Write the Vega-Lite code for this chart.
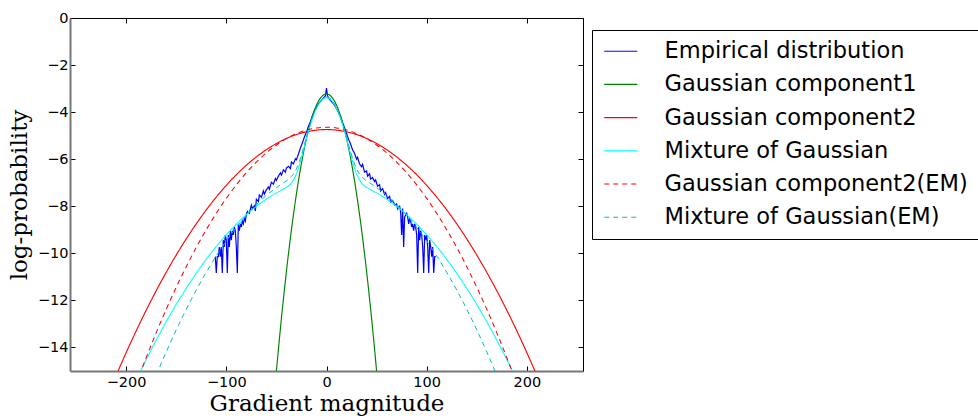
{
"$schema": "https://vega.github.io/schema/vega-lite/v6.json",
"width": 513, "height": 353,
"autosize": {"type": "none"},
"padding": {"left": 70, "top": 18, "right": 395, "bottom": 45},
"background": "white",
"config": {"view": {"stroke": null}, "font": "DejaVu Sans"},
"data": {"values": [
{"s":"Empirical distribution","x":-111,"y":-10.14},{"s":"Empirical distribution","x":-110,"y":-10.83},{"s":"Empirical distribution","x":-109,"y":-10.14},{"s":"Empirical distribution","x":-108,"y":-10.14},{"s":"Empirical distribution","x":-107,"y":-9.73},{"s":"Empirical distribution","x":-106,"y":-10.14},{"s":"Empirical distribution","x":-105,"y":-9.73},{"s":"Empirical distribution","x":-104,"y":-10.83},{"s":"Empirical distribution","x":-103,"y":-9.44},{"s":"Empirical distribution","x":-102,"y":-9.73},{"s":"Empirical distribution","x":-101,"y":-9.22},{"s":"Empirical distribution","x":-100,"y":-9.44},{"s":"Empirical distribution","x":-99,"y":-10.83},{"s":"Empirical distribution","x":-98,"y":-9.22},{"s":"Empirical distribution","x":-97,"y":-9.73},{"s":"Empirical distribution","x":-96,"y":-9.04},{"s":"Empirical distribution","x":-95,"y":-9.44},{"s":"Empirical distribution","x":-94,"y":-9.04},{"s":"Empirical distribution","x":-93,"y":-9.22},{"s":"Empirical distribution","x":-92,"y":-8.88},{"s":"Empirical distribution","x":-91,"y":-9.04},{"s":"Empirical distribution","x":-90,"y":-9.73},{"s":"Empirical distribution","x":-89,"y":-10.83},{"s":"Empirical distribution","x":-88,"y":-8.75},{"s":"Empirical distribution","x":-87,"y":-9.04},{"s":"Empirical distribution","x":-86,"y":-8.75},{"s":"Empirical distribution","x":-85,"y":-8.88},{"s":"Empirical distribution","x":-84,"y":-8.63},{"s":"Empirical distribution","x":-83,"y":-8.75},{"s":"Empirical distribution","x":-82,"y":-8.52},{"s":"Empirical distribution","x":-81,"y":-8.63},
{"s":"Empirical distribution","x":-80,"y":-8.35},{"s":"Empirical distribution","x":-79,"y":-8.22},{"s":"Empirical distribution","x":-77,"y":-8.3},{"s":"Empirical distribution","x":-75,"y":-7.95},{"s":"Empirical distribution","x":-74,"y":-8.1},{"s":"Empirical distribution","x":-72,"y":-7.98},{"s":"Empirical distribution","x":-71,"y":-8.2},{"s":"Empirical distribution","x":-70,"y":-7.7},{"s":"Empirical distribution","x":-68,"y":-7.8},{"s":"Empirical distribution","x":-67,"y":-7.52},{"s":"Empirical distribution","x":-65,"y":-7.62},{"s":"Empirical distribution","x":-63,"y":-7.35},{"s":"Empirical distribution","x":-62,"y":-7.48},{"s":"Empirical distribution","x":-60,"y":-7.3},{"s":"Empirical distribution","x":-58,"y":-7.18},{"s":"Empirical distribution","x":-57,"y":-7.28},{"s":"Empirical distribution","x":-55,"y":-6.98},{"s":"Empirical distribution","x":-53,"y":-7.06},{"s":"Empirical distribution","x":-51,"y":-6.82},{"s":"Empirical distribution","x":-50,"y":-6.9},{"s":"Empirical distribution","x":-48,"y":-6.72},{"s":"Empirical distribution","x":-46,"y":-6.58},{"s":"Empirical distribution","x":-45,"y":-6.68},{"s":"Empirical distribution","x":-43,"y":-6.45},{"s":"Empirical distribution","x":-41,"y":-6.55},{"s":"Empirical distribution","x":-40,"y":-6.38},{"s":"Empirical distribution","x":-38,"y":-6.3},{"s":"Empirical distribution","x":-36,"y":-6.4},{"s":"Empirical distribution","x":-35,"y":-6.12},{"s":"Empirical distribution","x":-33,"y":-6.2},{"s":"Empirical distribution","x":-31,"y":-5.98},{"s":"Empirical distribution","x":-30,"y":-6.02},{"s":"Empirical distribution","x":-28,"y":-5.78},{"s":"Empirical distribution","x":-26,"y":-5.52},{"s":"Empirical distribution","x":-24,"y":-5.3},{"s":"Empirical distribution","x":-22,"y":-5.05},{"s":"Empirical distribution","x":-20,"y":-4.85},{"s":"Empirical distribution","x":-18,"y":-4.6},{"s":"Empirical distribution","x":-16,"y":-4.4},{"s":"Empirical distribution","x":-14,"y":-4.15},{"s":"Empirical distribution","x":-12,"y":-3.95},{"s":"Empirical distribution","x":-10,"y":-3.8},{"s":"Empirical distribution","x":-8,"y":-3.65},{"s":"Empirical distribution","x":-6,"y":-3.55},{"s":"Empirical distribution","x":-4,"y":-3.45},{"s":"Empirical distribution","x":-2,"y":-3.35},{"s":"Empirical distribution","x":-1,"y":-3.3},{"s":"Empirical distribution","x":0,"y":-2.98},{"s":"Empirical distribution","x":1,"y":-3.3},
{"s":"Empirical distribution","x":2,"y":-3.4},{"s":"Empirical distribution","x":4,"y":-3.5},{"s":"Empirical distribution","x":6,"y":-3.6},{"s":"Empirical distribution","x":8,"y":-3.7},{"s":"Empirical distribution","x":10,"y":-3.85},{"s":"Empirical distribution","x":12,"y":-4.0},{"s":"Empirical distribution","x":14,"y":-4.2},{"s":"Empirical distribution","x":16,"y":-4.45},{"s":"Empirical distribution","x":18,"y":-4.65},{"s":"Empirical distribution","x":20,"y":-4.9},{"s":"Empirical distribution","x":22,"y":-5.15},{"s":"Empirical distribution","x":24,"y":-5.35},{"s":"Empirical distribution","x":26,"y":-5.6},{"s":"Empirical distribution","x":28,"y":-5.75},{"s":"Empirical distribution","x":30,"y":-6.0},{"s":"Empirical distribution","x":31,"y":-5.92},{"s":"Empirical distribution","x":33,"y":-6.2},{"s":"Empirical distribution","x":35,"y":-6.32},{"s":"Empirical distribution","x":36,"y":-6.22},{"s":"Empirical distribution","x":38,"y":-6.55},{"s":"Empirical distribution","x":40,"y":-6.5},{"s":"Empirical distribution","x":41,"y":-6.72},{"s":"Empirical distribution","x":43,"y":-6.62},{"s":"Empirical distribution","x":44,"y":-6.85},{"s":"Empirical distribution","x":46,"y":-6.78},{"s":"Empirical distribution","x":48,"y":-6.95},{"s":"Empirical distribution","x":49,"y":-6.88},{"s":"Empirical distribution","x":51,"y":-7.15},{"s":"Empirical distribution","x":53,"y":-7.08},{"s":"Empirical distribution","x":54,"y":-7.35},{"s":"Empirical distribution","x":56,"y":-7.25},{"s":"Empirical distribution","x":58,"y":-7.5},{"s":"Empirical distribution","x":59,"y":-7.42},{"s":"Empirical distribution","x":61,"y":-7.68},{"s":"Empirical distribution","x":63,"y":-7.58},{"s":"Empirical distribution","x":64,"y":-7.82},{"s":"Empirical distribution","x":66,"y":-7.75},{"s":"Empirical distribution","x":68,"y":-7.95},{"s":"Empirical distribution","x":70,"y":-7.9},{"s":"Empirical distribution","x":71,"y":-8.12},{"s":"Empirical distribution","x":73,"y":-8.0},{"s":"Empirical distribution","x":74,"y":-8.25},{"s":"Empirical distribution","x":75,"y":-9.22},{"s":"Empirical distribution","x":76,"y":-8.1},{"s":"Empirical distribution","x":77,"y":-9.73},{"s":"Empirical distribution","x":78,"y":-8.45},{"s":"Empirical distribution","x":80,"y":-8.3},
{"s":"Empirical distribution","x":81,"y":-8.45},{"s":"Empirical distribution","x":82,"y":-8.75},{"s":"Empirical distribution","x":83,"y":-8.52},{"s":"Empirical distribution","x":84,"y":-8.63},{"s":"Empirical distribution","x":85,"y":-8.88},{"s":"Empirical distribution","x":86,"y":-8.75},{"s":"Empirical distribution","x":87,"y":-9.04},{"s":"Empirical distribution","x":88,"y":-8.75},{"s":"Empirical distribution","x":89,"y":-8.88},{"s":"Empirical distribution","x":90,"y":-9.22},{"s":"Empirical distribution","x":91,"y":-10.83},{"s":"Empirical distribution","x":92,"y":-8.88},{"s":"Empirical distribution","x":93,"y":-9.44},{"s":"Empirical distribution","x":94,"y":-9.04},{"s":"Empirical distribution","x":95,"y":-9.22},{"s":"Empirical distribution","x":96,"y":-9.73},{"s":"Empirical distribution","x":97,"y":-10.83},{"s":"Empirical distribution","x":98,"y":-9.22},{"s":"Empirical distribution","x":99,"y":-9.44},{"s":"Empirical distribution","x":100,"y":-9.22},{"s":"Empirical distribution","x":101,"y":-9.73},{"s":"Empirical distribution","x":102,"y":-10.83},{"s":"Empirical distribution","x":103,"y":-9.44},{"s":"Empirical distribution","x":104,"y":-9.73},{"s":"Empirical distribution","x":105,"y":-10.14},{"s":"Empirical distribution","x":106,"y":-9.73},{"s":"Empirical distribution","x":107,"y":-10.83},{"s":"Empirical distribution","x":108,"y":-10.14},{"s":"Empirical distribution","x":109,"y":-10.14},
{"s":"Gaussian component1","x":-55,"y":-17.48},{"s":"Gaussian component1","x":-50,"y":-15.005},{"s":"Gaussian component1","x":-45,"y":-12.768},{"s":"Gaussian component1","x":-40,"y":-10.766},{"s":"Gaussian component1","x":-35,"y":-9.0},{"s":"Gaussian component1","x":-30,"y":-7.469},{"s":"Gaussian component1","x":-25,"y":-6.174},{"s":"Gaussian component1","x":-20,"y":-5.114},{"s":"Gaussian component1","x":-15,"y":-4.29},{"s":"Gaussian component1","x":-10,"y":-3.701},{"s":"Gaussian component1","x":-5,"y":-3.348},{"s":"Gaussian component1","x":0,"y":-3.23},{"s":"Gaussian component1","x":5,"y":-3.348},{"s":"Gaussian component1","x":10,"y":-3.701},{"s":"Gaussian component1","x":15,"y":-4.29},{"s":"Gaussian component1","x":20,"y":-5.114},{"s":"Gaussian component1","x":25,"y":-6.174},{"s":"Gaussian component1","x":30,"y":-7.469},{"s":"Gaussian component1","x":35,"y":-9.0},{"s":"Gaussian component1","x":40,"y":-10.766},{"s":"Gaussian component1","x":45,"y":-12.768},{"s":"Gaussian component1","x":50,"y":-15.005},{"s":"Gaussian component1","x":55,"y":-17.48},
{"s":"Gaussian component2","x":-210,"y":-15.196},{"s":"Gaussian component2","x":-200,"y":-14.224},{"s":"Gaussian component2","x":-190,"y":-13.299},{"s":"Gaussian component2","x":-180,"y":-12.422},{"s":"Gaussian component2","x":-170,"y":-11.592},{"s":"Gaussian component2","x":-160,"y":-10.81},{"s":"Gaussian component2","x":-150,"y":-10.075},{"s":"Gaussian component2","x":-140,"y":-9.387},{"s":"Gaussian component2","x":-130,"y":-8.747},{"s":"Gaussian component2","x":-120,"y":-8.154},{"s":"Gaussian component2","x":-110,"y":-7.609},{"s":"Gaussian component2","x":-100,"y":-7.111},{"s":"Gaussian component2","x":-90,"y":-6.66},{"s":"Gaussian component2","x":-80,"y":-6.257},{"s":"Gaussian component2","x":-70,"y":-5.902},{"s":"Gaussian component2","x":-60,"y":-5.594},{"s":"Gaussian component2","x":-50,"y":-5.333},{"s":"Gaussian component2","x":-40,"y":-5.119},{"s":"Gaussian component2","x":-30,"y":-4.953},{"s":"Gaussian component2","x":-20,"y":-4.835},{"s":"Gaussian component2","x":-10,"y":-4.764},{"s":"Gaussian component2","x":0,"y":-4.74},{"s":"Gaussian component2","x":10,"y":-4.764},{"s":"Gaussian component2","x":20,"y":-4.835},{"s":"Gaussian component2","x":30,"y":-4.953},{"s":"Gaussian component2","x":40,"y":-5.119},{"s":"Gaussian component2","x":50,"y":-5.333},{"s":"Gaussian component2","x":60,"y":-5.594},{"s":"Gaussian component2","x":70,"y":-5.902},{"s":"Gaussian component2","x":80,"y":-6.257},{"s":"Gaussian component2","x":90,"y":-6.66},{"s":"Gaussian component2","x":100,"y":-7.111},{"s":"Gaussian component2","x":110,"y":-7.609},{"s":"Gaussian component2","x":120,"y":-8.154},{"s":"Gaussian component2","x":130,"y":-8.747},{"s":"Gaussian component2","x":140,"y":-9.387},{"s":"Gaussian component2","x":150,"y":-10.075},{"s":"Gaussian component2","x":160,"y":-10.81},{"s":"Gaussian component2","x":170,"y":-11.592},{"s":"Gaussian component2","x":180,"y":-12.422},{"s":"Gaussian component2","x":190,"y":-13.299},{"s":"Gaussian component2","x":200,"y":-14.224},{"s":"Gaussian component2","x":210,"y":-15.196},
{"s":"Mixture of Gaussian","x":-190,"y":-15.399},{"s":"Mixture of Gaussian","x":-180,"y":-14.522},{"s":"Mixture of Gaussian","x":-170,"y":-13.692},{"s":"Mixture of Gaussian","x":-160,"y":-12.91},{"s":"Mixture of Gaussian","x":-150,"y":-12.175},{"s":"Mixture of Gaussian","x":-140,"y":-11.487},{"s":"Mixture of Gaussian","x":-130,"y":-10.847},{"s":"Mixture of Gaussian","x":-120,"y":-10.254},{"s":"Mixture of Gaussian","x":-110,"y":-9.709},{"s":"Mixture of Gaussian","x":-100,"y":-9.211},{"s":"Mixture of Gaussian","x":-90,"y":-8.761},{"s":"Mixture of Gaussian","x":-80,"y":-8.357},{"s":"Mixture of Gaussian","x":-70,"y":-8.002},{"s":"Mixture of Gaussian","x":-60,"y":-7.694},{"s":"Mixture of Gaussian","x":-50,"y":-7.433},{"s":"Mixture of Gaussian","x":-45,"y":-7.316},{"s":"Mixture of Gaussian","x":-40,"y":-7.196},{"s":"Mixture of Gaussian","x":-35,"y":-7.01},{"s":"Mixture of Gaussian","x":-30,"y":-6.618},{"s":"Mixture of Gaussian","x":-25,"y":-5.935},{"s":"Mixture of Gaussian","x":-20,"y":-5.125},{"s":"Mixture of Gaussian","x":-15,"y":-4.394},{"s":"Mixture of Gaussian","x":-10,"y":-3.841},{"s":"Mixture of Gaussian","x":-5,"y":-3.502},{"s":"Mixture of Gaussian","x":0,"y":-3.388},{"s":"Mixture of Gaussian","x":5,"y":-3.502},{"s":"Mixture of Gaussian","x":10,"y":-3.841},{"s":"Mixture of Gaussian","x":15,"y":-4.394},{"s":"Mixture of Gaussian","x":20,"y":-5.125},{"s":"Mixture of Gaussian","x":25,"y":-5.935},{"s":"Mixture of Gaussian","x":30,"y":-6.618},{"s":"Mixture of Gaussian","x":35,"y":-7.01},{"s":"Mixture of Gaussian","x":40,"y":-7.196},{"s":"Mixture of Gaussian","x":45,"y":-7.316},{"s":"Mixture of Gaussian","x":50,"y":-7.433},{"s":"Mixture of Gaussian","x":60,"y":-7.694},{"s":"Mixture of Gaussian","x":70,"y":-8.002},{"s":"Mixture of Gaussian","x":80,"y":-8.357},{"s":"Mixture of Gaussian","x":90,"y":-8.761},{"s":"Mixture of Gaussian","x":100,"y":-9.211},{"s":"Mixture of Gaussian","x":110,"y":-9.709},{"s":"Mixture of Gaussian","x":120,"y":-10.254},{"s":"Mixture of Gaussian","x":130,"y":-10.847},{"s":"Mixture of Gaussian","x":140,"y":-11.487},{"s":"Mixture of Gaussian","x":150,"y":-12.175},{"s":"Mixture of Gaussian","x":160,"y":-12.91},{"s":"Mixture of Gaussian","x":170,"y":-13.692},{"s":"Mixture of Gaussian","x":180,"y":-14.522},{"s":"Mixture of Gaussian","x":190,"y":-15.399},
{"s":"Gaussian component2(EM)","x":-190,"y":-15.557},{"s":"Gaussian component2(EM)","x":-180,"y":-14.438},{"s":"Gaussian component2(EM)","x":-170,"y":-13.379},{"s":"Gaussian component2(EM)","x":-160,"y":-12.381},{"s":"Gaussian component2(EM)","x":-150,"y":-11.444},{"s":"Gaussian component2(EM)","x":-140,"y":-10.567},{"s":"Gaussian component2(EM)","x":-130,"y":-9.751},{"s":"Gaussian component2(EM)","x":-120,"y":-8.995},{"s":"Gaussian component2(EM)","x":-110,"y":-8.299},{"s":"Gaussian component2(EM)","x":-100,"y":-7.664},{"s":"Gaussian component2(EM)","x":-90,"y":-7.089},{"s":"Gaussian component2(EM)","x":-80,"y":-6.575},{"s":"Gaussian component2(EM)","x":-70,"y":-6.122},{"s":"Gaussian component2(EM)","x":-60,"y":-5.729},{"s":"Gaussian component2(EM)","x":-50,"y":-5.396},{"s":"Gaussian component2(EM)","x":-40,"y":-5.124},{"s":"Gaussian component2(EM)","x":-30,"y":-4.912},{"s":"Gaussian component2(EM)","x":-20,"y":-4.761},{"s":"Gaussian component2(EM)","x":-10,"y":-4.67},{"s":"Gaussian component2(EM)","x":0,"y":-4.64},{"s":"Gaussian component2(EM)","x":10,"y":-4.67},{"s":"Gaussian component2(EM)","x":20,"y":-4.761},{"s":"Gaussian component2(EM)","x":30,"y":-4.912},{"s":"Gaussian component2(EM)","x":40,"y":-5.124},{"s":"Gaussian component2(EM)","x":50,"y":-5.396},{"s":"Gaussian component2(EM)","x":60,"y":-5.729},{"s":"Gaussian component2(EM)","x":70,"y":-6.122},{"s":"Gaussian component2(EM)","x":80,"y":-6.575},{"s":"Gaussian component2(EM)","x":90,"y":-7.089},{"s":"Gaussian component2(EM)","x":100,"y":-7.664},{"s":"Gaussian component2(EM)","x":110,"y":-8.299},{"s":"Gaussian component2(EM)","x":120,"y":-8.995},{"s":"Gaussian component2(EM)","x":130,"y":-9.751},{"s":"Gaussian component2(EM)","x":140,"y":-10.567},{"s":"Gaussian component2(EM)","x":150,"y":-11.444},{"s":"Gaussian component2(EM)","x":160,"y":-12.381},{"s":"Gaussian component2(EM)","x":170,"y":-13.379},{"s":"Gaussian component2(EM)","x":180,"y":-14.438},{"s":"Gaussian component2(EM)","x":190,"y":-15.557},
{"s":"Mixture of Gaussian(EM)","x":-170,"y":-15.189},{"s":"Mixture of Gaussian(EM)","x":-160,"y":-14.191},{"s":"Mixture of Gaussian(EM)","x":-150,"y":-13.254},{"s":"Mixture of Gaussian(EM)","x":-140,"y":-12.377},{"s":"Mixture of Gaussian(EM)","x":-130,"y":-11.561},{"s":"Mixture of Gaussian(EM)","x":-120,"y":-10.805},{"s":"Mixture of Gaussian(EM)","x":-110,"y":-10.109},{"s":"Mixture of Gaussian(EM)","x":-100,"y":-9.474},{"s":"Mixture of Gaussian(EM)","x":-90,"y":-8.899},{"s":"Mixture of Gaussian(EM)","x":-80,"y":-8.385},{"s":"Mixture of Gaussian(EM)","x":-70,"y":-7.932},{"s":"Mixture of Gaussian(EM)","x":-60,"y":-7.539},{"s":"Mixture of Gaussian(EM)","x":-50,"y":-7.206},{"s":"Mixture of Gaussian(EM)","x":-45,"y":-7.06},{"s":"Mixture of Gaussian(EM)","x":-40,"y":-6.918},{"s":"Mixture of Gaussian(EM)","x":-35,"y":-6.738},{"s":"Mixture of Gaussian(EM)","x":-30,"y":-6.408},{"s":"Mixture of Gaussian(EM)","x":-25,"y":-5.819},{"s":"Mixture of Gaussian(EM)","x":-20,"y":-5.068},{"s":"Mixture of Gaussian(EM)","x":-15,"y":-4.358},{"s":"Mixture of Gaussian(EM)","x":-10,"y":-3.808},{"s":"Mixture of Gaussian(EM)","x":-5,"y":-3.468},{"s":"Mixture of Gaussian(EM)","x":0,"y":-3.354},{"s":"Mixture of Gaussian(EM)","x":5,"y":-3.468},{"s":"Mixture of Gaussian(EM)","x":10,"y":-3.808},{"s":"Mixture of Gaussian(EM)","x":15,"y":-4.358},{"s":"Mixture of Gaussian(EM)","x":20,"y":-5.068},{"s":"Mixture of Gaussian(EM)","x":25,"y":-5.819},{"s":"Mixture of Gaussian(EM)","x":30,"y":-6.408},{"s":"Mixture of Gaussian(EM)","x":35,"y":-6.738},{"s":"Mixture of Gaussian(EM)","x":40,"y":-6.918},{"s":"Mixture of Gaussian(EM)","x":45,"y":-7.06},{"s":"Mixture of Gaussian(EM)","x":50,"y":-7.206},{"s":"Mixture of Gaussian(EM)","x":60,"y":-7.539},{"s":"Mixture of Gaussian(EM)","x":70,"y":-7.932},{"s":"Mixture of Gaussian(EM)","x":80,"y":-8.385},{"s":"Mixture of Gaussian(EM)","x":90,"y":-8.899},{"s":"Mixture of Gaussian(EM)","x":100,"y":-9.474},{"s":"Mixture of Gaussian(EM)","x":110,"y":-10.109},{"s":"Mixture of Gaussian(EM)","x":120,"y":-10.805},{"s":"Mixture of Gaussian(EM)","x":130,"y":-11.561},{"s":"Mixture of Gaussian(EM)","x":140,"y":-12.377},{"s":"Mixture of Gaussian(EM)","x":150,"y":-13.254},{"s":"Mixture of Gaussian(EM)","x":160,"y":-14.191},{"s":"Mixture of Gaussian(EM)","x":170,"y":-15.189}
]},
"resolve": {"axis": {"x": "independent", "y": "independent"}},
"layer": [
{
"transform": [{"filter": "datum.s === 'Empirical distribution'"}],
"mark": {"type": "line", "clip": true, "strokeWidth": 1.2},
"encoding": {
"x": {"field": "x", "type": "quantitative", "scale": {"domain": [-256, 256], "nice": false, "zero": false},
 "axis": {"orient": "bottom", "values": [-200, -100, 0, 100, 200], "title": "Gradient magnitude", "titleFont": "DejaVu Serif", "titleFontSize": 23, "titleFontWeight": "normal", "titleColor": "black", "titlePadding": 4, "labelFont": "DejaVu Sans", "labelFontSize": 14.5, "labelColor": "black", "grid": false, "domainColor": "#777777", "domainWidth": 2, "tickColor": "black", "tickSize": -5, "labelPadding": 9}},
"y": {"field": "y", "type": "quantitative", "scale": {"domain": [-15, 0], "nice": false, "zero": false},
 "axis": {"orient": "left", "values": [-14, -12, -10, -8, -6, -4, -2, 0], "title": "log-probability", "titleFont": "DejaVu Serif", "titleFontSize": 23, "titleFontWeight": "normal", "titleColor": "black", "titlePadding": 6, "labelFont": "DejaVu Sans", "labelFontSize": 14.5, "labelColor": "black", "grid": false, "domainColor": "#777777", "domainWidth": 2, "tickColor": "black", "tickSize": -5, "labelPadding": 7}},
"color": {"field": "s", "type": "nominal",
 "scale": {"domain": ["Empirical distribution", "Gaussian component1", "Gaussian component2", "Mixture of Gaussian", "Gaussian component2(EM)", "Mixture of Gaussian(EM)"], "range": ["#0000ff", "#008000", "#ff0000", "#00ffff", "#ff0000", "#00bfbf"]},
 "legend": {"orient": "none", "legendX": 522, "legendY": 12, "title": null, "labelFont": "DejaVu Sans", "labelFontSize": 22.5, "labelColor": "black", "symbolType": "M-1.64,0H4.36", "symbolSize": 121, "symbolStrokeWidth": 1.2, "labelOffset": 40, "padding": 10, "rowPadding": 10.2, "strokeColor": "black", "fillColor": "white", "labelLimit": 400,
  "encode": {"symbols": {"update": {
   "stroke": {"signal": "datum.value === 'Empirical distribution' ? '#0000ff' : datum.value === 'Gaussian component1' ? '#008000' : datum.value === 'Mixture of Gaussian' ? '#00ffff' : datum.value === 'Mixture of Gaussian(EM)' ? '#00bfbf' : '#ff0000'"},
   "strokeDash": {"signal": "indexof(['Gaussian component2(EM)','Mixture of Gaussian(EM)'], datum.value) >= 0 ? [5,4] : [1,0]"},
   "strokeWidth": {"signal": "datum.value === 'Mixture of Gaussian' ? 2 : 1.2"},
   "fill": {"value": "transparent"},
   "opacity": {"value": 1}}}}}},
"strokeDash": {"field": "s", "type": "nominal",
 "scale": {"domain": ["Empirical distribution", "Gaussian component1", "Gaussian component2", "Mixture of Gaussian", "Gaussian component2(EM)", "Mixture of Gaussian(EM)"], "range": [[1, 0], [1, 0], [1, 0], [1, 0], [5, 4], [5, 4]]},
 "legend": null}
}
},
{
"transform": [{"filter": "datum.s !== 'Empirical distribution'"}],
"mark": {"type": "line", "clip": true, "interpolate": "monotone"},
"encoding": {
"x": {"field": "x", "type": "quantitative", "axis": null},
"y": {"field": "y", "type": "quantitative", "axis": null},
"color": {"field": "s", "type": "nominal"},
"strokeDash": {"field": "s", "type": "nominal", "legend": null},
"strokeWidth": {"field": "s", "type": "nominal", "scale": {"domain": ["Empirical distribution", "Gaussian component1", "Gaussian component2", "Mixture of Gaussian", "Gaussian component2(EM)", "Mixture of Gaussian(EM)"], "range": [1.2, 1, 1, 1.6, 1, 1]}, "legend": null}
}
},
{
"mark": {"type": "point", "opacity": 0, "size": 0},
"encoding": {
"x": {"field": "x", "type": "quantitative", "axis": {"orient": "top", "values": [-200, -100, 0, 100, 200], "labels": false, "title": null, "grid": false, "domainColor": "black", "domainWidth": 1, "tickColor": "black", "tickSize": -5}},
"y": {"field": "y", "type": "quantitative", "axis": {"orient": "right", "values": [-14, -12, -10, -8, -6, -4, -2, 0], "labels": false, "title": null, "grid": false, "domainColor": "black", "domainWidth": 1, "tickColor": "black", "tickSize": -5}}
}
}
]
}
